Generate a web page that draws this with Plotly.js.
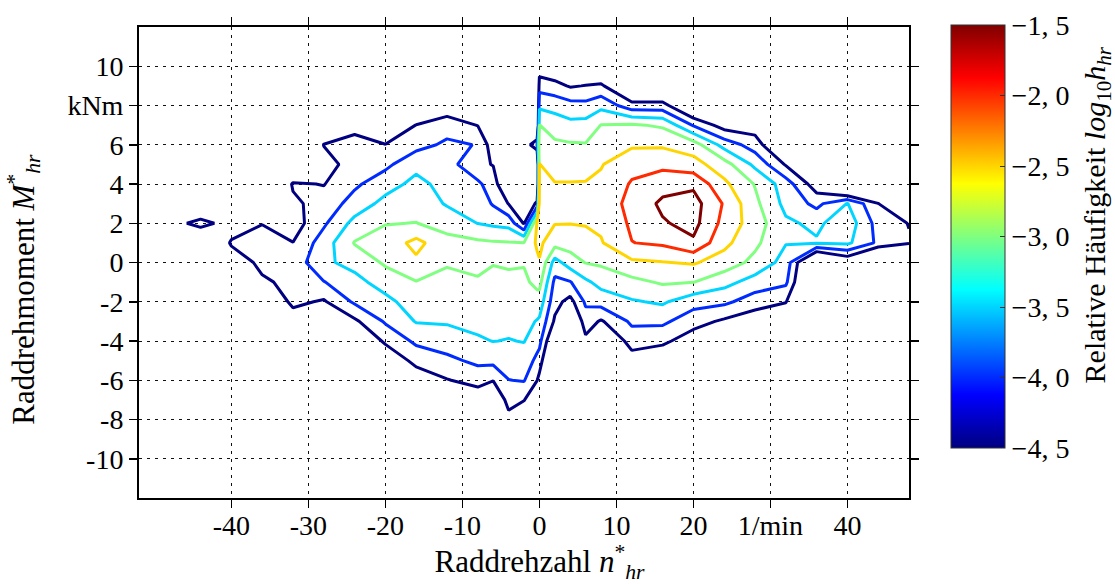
<!DOCTYPE html>
<html>
<head>
<meta charset="utf-8">
<script src="https://cdn.plot.ly/plotly-3.0.1.min.js"></script>
<style>html,body{margin:0;padding:0;background:#fff;}#chart{width:1115px;height:584px;}</style>
</head>
<body>
<div id="chart"></div>
<script>
// Wheel speed n*_hr (1/min) grid columns
const nValues = [-48,-44,-40,-36,-32,-28,-24,-20,-16,-12,-8,-6,-4,-2,-0.3,0,2,4,6,8,12,16,20,24,28,32,36,40,44,48];
// Wheel torque M*_hr (kNm) grid rows
const mValues = [-9,-8,-7,-6,-5,-4,-3,-2,-1,0,1,2,3,4,5,6,7,8,9,10];
// log10 relative frequency, one array per n column (bottom to top in M)
const logFreq = [
 [-6,-6,-6,-6,-6,-6,-6,-6,-6,-6,-6,-5.0,-6,-6,-6,-6,-6,-6,-6,-6],
 [-6,-6,-6,-6,-6,-6,-6,-6,-6,-6,-6,-4.1,-6,-6,-6,-6,-6,-6,-6,-6],
 [-6,-6,-6,-6,-6,-6,-6,-6,-5.7,-5.0,-4.4,-5.0,-5.8,-6,-6,-6,-6,-6,-6,-6],
 [-6,-6,-6,-6,-6,-6,-5.8,-5.1,-4.62,-4.3,-4.25,-4.52,-5.1,-5.7,-6,-6,-6,-6,-6,-6],
 [-6,-6,-6,-6,-6,-5.4,-4.77,-4.38,-4.3,-4.3,-4.49,-4.75,-4.6,-4.44,-5.3,-6,-6,-6,-6,-6],
 [-6,-6,-6,-6,-6,-5.8,-5.2,-4.56,-4.02,-3.6,-3.75,-4.08,-4.3,-4.52,-4.75,-4.48,-5.2,-6,-6,-6],
 [-6,-6,-6,-6,-5.8,-5.2,-4.6,-3.92,-3.67,-3.33,-2.97,-3.34,-3.8,-4.09,-4.24,-4.39,-4.6,-5.2,-5.8,-6],
 [-6,-6,-6,-5.6,-4.98,-4.4,-3.94,-3.65,-3.27,-2.93,-2.8,-3.02,-3.34,-3.71,-4.12,-4.49,-4.9,-5.5,-6,-6],
 [-6,-6,-5.5,-4.86,-4.33,-3.9,-3.47,-3.23,-3.02,-2.6,-2.35,-2.99,-3.17,-3.36,-3.64,-4.17,-4.49,-5.1,-5.7,-6],
 [-6,-5.7,-5.1,-4.53,-4.12,-3.75,-3.45,-3.29,-3.12,-2.96,-2.85,-3.18,-3.55,-3.67,-3.79,-3.91,-4.21,-4.86,-5.5,-6],
 [-6,-5.5,-4.86,-4.31,-3.89,-3.56,-3.37,-3.21,-3.05,-2.88,-2.9,-3.51,-3.7,-3.9,-4.4,-4.02,-4.52,-5.1,-5.7,-6],
 [-6,-5.7,-5.1,-4.48,-3.86,-3.49,-3.36,-3.23,-3.11,-2.98,-2.95,-3.6,-4.05,-4.27,-4.52,-4.8,-5.2,-5.8,-6,-6],
 [-5.3,-4.68,-4.3,-4.01,-3.77,-3.52,-3.37,-3.23,-3.09,-2.95,-2.97,-3.67,-4.52,-5.1,-5.7,-6,-6,-6,-6,-6],
 [-5.7,-5.1,-4.47,-3.97,-3.72,-3.48,-3.35,-3.22,-3.09,-2.97,-2.98,-4.55,-5.5,-6,-6,-5.0,-6,-6,-6,-6],
 [-6,-5.7,-5.1,-4.49,-4.12,-3.81,-3.53,-3.19,-2.88,-2.61,-2.42,-2.45,-4.3,-6,-6,-3.95,-6,-6,-6,-6],
 [-6,-5.9,-5.3,-4.68,-4.21,-3.86,-3.58,-3.22,-2.85,-2.53,-2.4,-2.3,-2.32,-2.4,-2.49,-2.75,-2.99,-3.61,-4.2,-4.84],
 [-6,-6,-6,-6,-5.8,-5.2,-4.58,-4.32,-4.12,-3.7,-2.82,-2.48,-2.4,-2.48,-2.67,-2.91,-3.24,-3.68,-4.33,-4.98],
 [-6,-6,-6,-6,-6,-5.9,-5.3,-4.68,-4.03,-3.25,-2.78,-2.49,-2.42,-2.48,-2.68,-2.95,-3.36,-3.82,-4.55,-5.2],
 [-6,-6,-6,-5.8,-5.2,-4.62,-4.24,-3.92,-3.6,-2.98,-2.67,-2.47,-2.4,-2.47,-2.68,-2.97,-3.32,-3.86,-4.48,-5.1],
 [-6,-6,-6,-6,-5.8,-5.2,-4.56,-3.79,-3.33,-2.92,-2.54,-2.41,-2.3,-2.41,-2.53,-2.76,-2.99,-3.64,-4.4,-5.3],
 [-6,-6,-5.9,-5.3,-4.74,-4.28,-3.91,-3.55,-3.14,-2.59,-2.01,-1.92,-1.85,-1.95,-2.17,-2.57,-2.94,-4.3,-5.4,-6],
 [-6,-6,-6,-5.6,-4.95,-4.38,-3.9,-3.43,-2.94,-2.52,-1.92,-1.55,-1.4,-1.7,-2.13,-2.57,-3.07,-4.3,-5.4,-6],
 [-6,-6,-6,-6,-5.4,-4.8,-4.29,-3.81,-2.99,-2.45,-1.58,-1.34,-1.3,-1.6,-2.31,-2.76,-4.05,-5.3,-6,-6],
 [-6,-6,-6,-6,-5.8,-5.2,-4.59,-3.89,-3.33,-2.72,-2.37,-2.16,-2.05,-2.39,-2.79,-3.7,-4.74,-5.4,-6,-6],
 [-6,-6,-6,-6,-6,-5.4,-4.83,-4.26,-3.71,-3.14,-2.89,-2.75,-2.88,-3.03,-3.62,-4.24,-4.77,-5.4,-6,-6],
 [-6,-6,-6,-6,-6,-5.7,-5.1,-4.47,-3.9,-3.69,-3.48,-3.42,-3.64,-3.75,-4.55,-5.3,-5.9,-6,-6,-6],
 [-6,-6,-6,-6,-6,-6,-6,-6,-6,-5.8,-3.45,-3.6,-4.14,-4.8,-5.4,-6,-6,-6,-6,-6],
 [-6,-6,-6,-6,-6,-6,-6,-6,-6,-5.0,-3.4,-3.2,-3.48,-6,-6,-6,-6,-6,-6,-6],
 [-6,-6,-6,-6,-6,-6,-6,-6,-6,-6,-4.1,-4.2,-4.48,-6,-6,-6,-6,-6,-6,-6],
 [-6,-6,-6,-6,-6,-6,-6,-6,-6,-6,-4.45,-4.52,-6,-6,-6,-6,-6,-6,-6,-6]
];
// contour levels and colorbar labels
const levelValues = [-4.5,-4.0,-3.5,-3.0,-2.5,-2.0,-1.5];
const levelLabels = ['\u22124, 5','\u22124, 0','\u22123, 5','\u22123, 0','\u22122, 5','\u22122, 0','\u22121, 5'];
// axis ticks
const xTickVals = [-40,-30,-20,-10,0,10,20,30,40];
const xTickText = ['-40','-30','-20','-10','0','10','20','1/min','40'];
const yTickVals = [-10,-8,-6,-4,-2,0,2,4,6,8,10];
const yTickText = ['-10','-8','-6','-4','-2','0','2','4','6','kNm','10'];
// titles
const xTitle = '&nbsp;&nbsp;&nbsp;&nbsp;Raddrehzahl <i>n</i><sup>*</sup><sub><i>hr</i></sub>';
const yTitle = 'Raddrehmoment <i>M</i><sup>*</sup><sub><i>hr</i></sub>&nbsp;&nbsp;&nbsp;&nbsp;&nbsp;&nbsp;&nbsp;';
const cbTitle = 'Relative H\u00e4ufigkeit <i>log</i><sub>10</sub><i>h</i><sub><i>hr</i></sub>';

const jet = [[0,'rgb(0,0,128)'],[0.125,'rgb(0,0,255)'],[0.375,'rgb(0,255,255)'],[0.625,'rgb(255,255,0)'],[0.875,'rgb(255,0,0)'],[1,'rgb(128,0,0)']];
const FONT = '"Liberation Serif", "DejaVu Serif", serif';

const z = mValues.map((_, j) => nValues.map((_, i) => logFreq[i][j]));
const zMin = levelValues[0], zMax = levelValues[levelValues.length - 1];

const colorbarTrace = {
  type: 'heatmap', x: nValues, y: mValues, z: z,
  zmin: zMin, zmax: zMax, zauto: false, colorscale: jet, opacity: 0,
  hoverinfo: 'skip', showscale: true,
  colorbar: {
    thickness: 54, thicknessmode: 'pixels', len: 423, lenmode: 'pixels',
    x: 1.0545, xanchor: 'left', y: 0.555, yanchor: 'middle', xpad: 0, ypad: 0,
    outlinewidth: 1, outlinecolor: '#333',
    tickvals: levelValues, ticktext: levelLabels,
    ticks: 'inside', ticklen: 5, tickcolor: '#333', tickwidth: 1,
    tickfont: {family: FONT, size: 28, color: 'black'}
  }
};

const contourTrace = {
  type: 'contour', x: nValues, y: mValues, z: z,
  zmin: zMin, zmax: zMax, zauto: false, colorscale: jet,
  autocontour: false,
  contours: {start: zMin, end: zMax, size: 0.5, coloring: 'lines'},
  line: {width: 3, smoothing: 0},
  showscale: false, hoverinfo: 'skip'
};

const axisCommon = {
  ticks: 'outside', ticklen: 8, tickwidth: 1.5, tickcolor: 'black',
  showline: true, linecolor: 'black', linewidth: 2, mirror: 'ticks',
  showgrid: true, gridcolor: '#111', gridwidth: 1, griddash: '3px,5px',
  zeroline: false, tickfont: {family: FONT, size: 28, color: 'black'},
  automargin: false
};

const layout = {
  width: 1115, height: 584,
  margin: {l: 139, r: 206, t: 27, b: 86, pad: 0},
  paper_bgcolor: 'white', plot_bgcolor: 'white',
  font: {family: FONT, size: 28, color: 'black'},
  showlegend: false,
  xaxis: Object.assign({}, axisCommon, {
    range: [-52, 48], tickmode: 'array', tickvals: xTickVals, ticktext: xTickText,
    ticklabelstandoff: -7,
    title: {text: xTitle, font: {family: FONT, size: 31, color: 'black'}, standoff: 8}
  }),
  yaxis: Object.assign({}, axisCommon, {
    range: [-12, 12], tickmode: 'array', tickvals: yTickVals, ticktext: yTickText,
    title: {text: yTitle, font: {family: FONT, size: 31, color: 'black'}, standoff: 24}
  }),
  annotations: [{
    text: cbTitle, xref: 'paper', yref: 'paper', x: 1.2442, y: 0.60,
    xanchor: 'center', yanchor: 'middle', textangle: -90, showarrow: false,
    font: {family: FONT, size: 30, color: 'black'}
  }]
};

Plotly.newPlot('chart', [colorbarTrace, contourTrace], layout, {staticPlot: true, displayModeBar: false});
</script>
</body>
</html>
